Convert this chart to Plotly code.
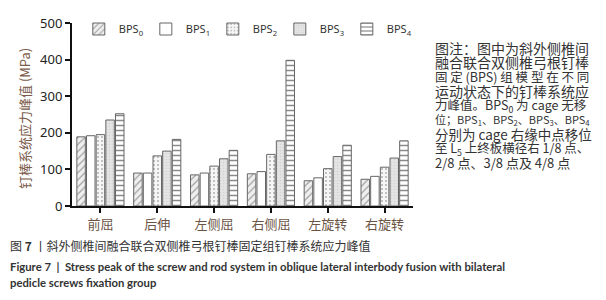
import plotly.graph_objects as go

categories = ["前屈", "后伸", "左侧屈", "右侧屈", "左旋转", "右旋转"]
series_names = ["BPS<sub>0</sub>", "BPS<sub>1</sub>", "BPS<sub>2</sub>", "BPS<sub>3</sub>", "BPS<sub>4</sub>"]
bps0 = [189, 90, 85, 88, 69, 73]
bps1 = [192, 90, 90, 94, 77, 81]
bps2 = [195, 137, 109, 141, 102, 106]
bps3 = [235, 150, 129, 178, 135, 131]
bps4 = [252, 182, 152, 398, 166, 178]
y_ticks = [0, 100, 200, 300, 400, 500]
y_title = "钉棒系统应力峰值 (MPa)"

note_lines = [
    "图注：图中为斜外侧椎间",
    "融合联合双侧椎弓根钉棒",
    "固 定 (BPS) 组 模 型 在 不 同",
    "运动状态下的钉棒系统应",
    "力峰值。BPS<sub>0</sub> 为 cage 无移",
    "位；BPS<sub>1</sub>、BPS<sub>2</sub>、BPS<sub>3</sub>、BPS<sub>4</sub>",
    "分别为 cage 右缘中点移位",
    "至 L<sub>5</sub> 上终板横径右 1/8 点、",
    "2/8 点、3/8 点及 4/8 点",
]
note_sizes = [14, 14, 12.5, 14, 12.5, 11, 13.5, 12.5, 13]

styles = [
    dict(bg="#efefef", fg="#a0a0a0", shape="/", size=5, solidity=0.25),
    dict(bg="#ffffff", fg="#ffffff", shape="", size=5, solidity=0.2),
    dict(bg="#f6f6f6", fg="#b0b0b0", shape=".", size=4, solidity=0.2),
    dict(bg="#e4e4e4", fg="#d2d2d2", shape=".", size=3, solidity=0.2),
    dict(bg="#ffffff", fg="#8a8a8a", shape="-", size=5, solidity=0.3),
]

fig = go.Figure()
for name, vals, st in zip(series_names, [bps0, bps1, bps2, bps3, bps4], styles):
    fig.add_trace(go.Bar(
        x=categories, y=vals, name=name,
        marker=dict(
            color=st["bg"],
            line=dict(color="#666666", width=1),
            pattern=dict(shape=st["shape"], fgcolor=st["fg"], bgcolor=st["bg"],
                         size=st["size"], solidity=st["solidity"], fillmode="replace"),
        ),
    ))

# the page body adds an 8px offset; positions below are in figure pixels
OFF = 8
PL, PR, PT, PB = 72 - OFF, 413 - OFF, 23 - OFF, 206 - OFF
PW, PH = PR - PL, PB - PT

fig.update_layout(
    width=606, height=300,
    margin=dict(l=PL, r=606 - PR, t=PT, b=300 - PB, autoexpand=False),
    paper_bgcolor="white", plot_bgcolor="white",
    barmode="group", bargap=0.15, bargroupgap=0.12,
    font=dict(family="Noto Sans, sans-serif", color="#222222"),
    showlegend=True,
    legend=dict(orientation="h", x=0.02, y=1 - 6 / PH, xanchor="left", yanchor="middle",
                entrywidth=22, entrywidthmode="pixels",
                font=dict(size=11, color="#333333", family="Noto Sans"),
                bgcolor="rgba(0,0,0,0)", tracegroupgap=0),
    xaxis=dict(
        showline=True, linecolor="#111111", linewidth=2,
        ticks="outside", ticklen=5, tickwidth=2, tickcolor="#111111",
        tickfont=dict(family="Noto Sans CJK SC", size=13, color="#6b5444"),
        range=[-0.5, 5.5], showgrid=False,
    ),
    yaxis=dict(
        range=[0, 500], tickvals=y_ticks,
        showline=True, linecolor="#111111", linewidth=2,
        ticks="outside", ticklen=5, tickwidth=2, tickcolor="#111111",
        tickfont=dict(family="Noto Sans", size=13, color="#222222"),
        showgrid=False, zeroline=False,
    ),
)

fig.add_annotation(
    xref="paper", yref="paper", x=(24 - OFF - PL) / PW, y=(PB - (118 - OFF)) / PH,
    text=y_title, textangle=-90, showarrow=False, xanchor="center", yanchor="middle",
    font=dict(family="Noto Sans CJK SC", size=13, color="#7a5a48"),
)

for i, (line, sz) in enumerate(zip(note_lines, note_sizes)):
    fig.add_annotation(
        xref="paper", yref="paper", x=(434 - OFF - 1 - PL) / PW,
        y=(PB - (47.5 - OFF + 14.4 * i)) / PH,
        text=line, showarrow=False, xanchor="left", yanchor="middle",
        font=dict(family="Noto Sans CJK SC", size=sz, color="#333333"),
    )

captions = [
    ("图 <b>7</b> 丨斜外侧椎间融合联合双侧椎弓根钉棒固定组钉棒系统应力峰值", 245, "Noto Sans CJK SC", 12),
    ("<b>Figure 7  |  Stress peak of the screw and rod system in oblique lateral interbody fusion with bilateral</b>", 266.5, "Lato", 11.3),
    ("<b>pedicle screws fixation group</b>", 282.5, "Lato", 11.3),
]
for text, ypx, fam, sz in captions:
    fig.add_annotation(
        xref="paper", yref="paper", x=(9 - OFF - 1 - PL) / PW, y=(PB - (ypx - OFF)) / PH,
        text=text, showarrow=False, xanchor="left", yanchor="middle",
        font=dict(family=fam, size=sz, color="#333333"),
    )

fig.write_html("out.html")
